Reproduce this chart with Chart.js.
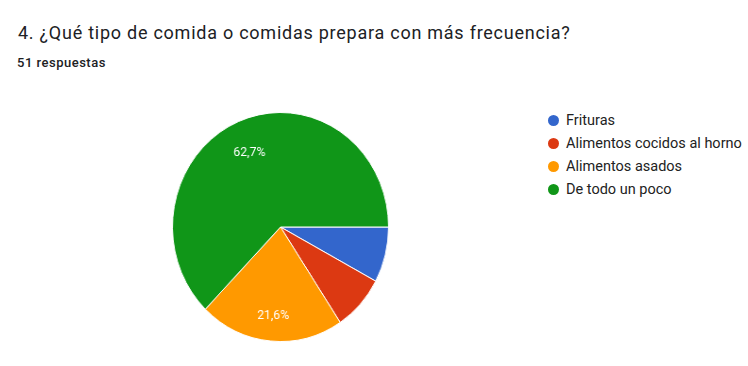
<!DOCTYPE html>
<html lang="es">
<head>
<meta charset="utf-8">
<title>¿Qué tipo de comida o comidas prepara con más frecuencia?</title>
<script src="https://cdn.jsdelivr.net/npm/chart.js@4.4.1/dist/chart.umd.min.js"></script>
<style>
  html, body { margin: 0; padding: 0; background: #ffffff; }
  body { width: 748px; height: 366px; position: relative; overflow: hidden; font-family: Roboto, "Noto Sans", Arial, sans-serif; }
  #title { position: absolute; left: 18px; top: 22px; font-size: 18px; color: #202124; white-space: nowrap; letter-spacing: 0.75px; }
  #subtitle { position: absolute; left: 17px; top: 55px; font-size: 13px; font-weight: 500; color: #202124; white-space: nowrap; letter-spacing: 0.5px; }
  #pie { position: absolute; left: 172px; top: 112px; width: 217px; height: 230px; }
  #legend { position: absolute; left: 548px; top: 109px; margin: 0; padding: 0; list-style: none; }
  #legend li { height: 23px; line-height: 18px; font-size: 14.5px; color: #222222; white-space: nowrap; display: flex; align-items: center; }
  #legend .dot { width: 11px; height: 11px; border-radius: 50%; margin-right: 7px; flex: none; }
</style>
</head>
<body>
<div id="title">4. ¿Qué tipo de comida o comidas prepara con más frecuencia?</div>
<div id="subtitle">51 respuestas</div>
<canvas id="pie" width="230" height="230" style="width:217px;height:230px"></canvas>
<ul id="legend"></ul>
<script>
// Response counts per answer (51 responses in total)
const categories = ['Frituras', 'Alimentos cocidos al horno', 'Alimentos asados', 'De todo un poco'];
const responses = [4, 4, 11, 32];
const sliceColors = ['#3366cc', '#dc3912', '#ff9900', '#109618'];

const total = responses.reduce((a, b) => a + b, 0);

// Legend list
const legendEl = document.getElementById('legend');
categories.forEach((name, i) => {
  const li = document.createElement('li');
  const dot = document.createElement('span');
  dot.className = 'dot';
  dot.style.background = sliceColors[i];
  li.appendChild(dot);
  li.appendChild(document.createTextNode(name));
  legendEl.appendChild(li);
});

// Percentage text inside the larger slices
const sliceLabels = {
  id: 'sliceLabels',
  afterDatasetsDraw(chart) {
    const ctx = chart.ctx;
    const meta = chart.getDatasetMeta(0);
    ctx.save();
    ctx.fillStyle = '#ffffff';
    ctx.font = '13px Roboto, Arial, sans-serif';
    ctx.textAlign = 'center';
    ctx.textBaseline = 'middle';
    meta.data.forEach((arc, i) => {
      const share = responses[i] / total;
      if (share < 0.1) return;
      const p = arc.getProps(['x', 'y', 'startAngle', 'endAngle', 'outerRadius'], true);
      const mid = (p.startAngle + p.endAngle) / 2;
      const r = p.outerRadius * 0.74;
      const text = (share * 100).toFixed(1).replace('.', ',') + '%';
      ctx.fillText(text, p.x + Math.cos(mid) * r, p.y + Math.sin(mid) * r + 4);
    });
    ctx.restore();
  }
};

new Chart(document.getElementById('pie'), {
  type: 'pie',
  data: {
    labels: categories,
    datasets: [{
      data: responses,
      backgroundColor: sliceColors,
      borderColor: '#ffffff',
      borderWidth: 1
    }]
  },
  options: {
    responsive: false,
    animation: false,
    rotation: 90,
    layout: { padding: 0 },
    plugins: {
      legend: { display: false },
      tooltip: { enabled: false }
    }
  },
  plugins: [sliceLabels]
});
</script>
</body>
</html>
